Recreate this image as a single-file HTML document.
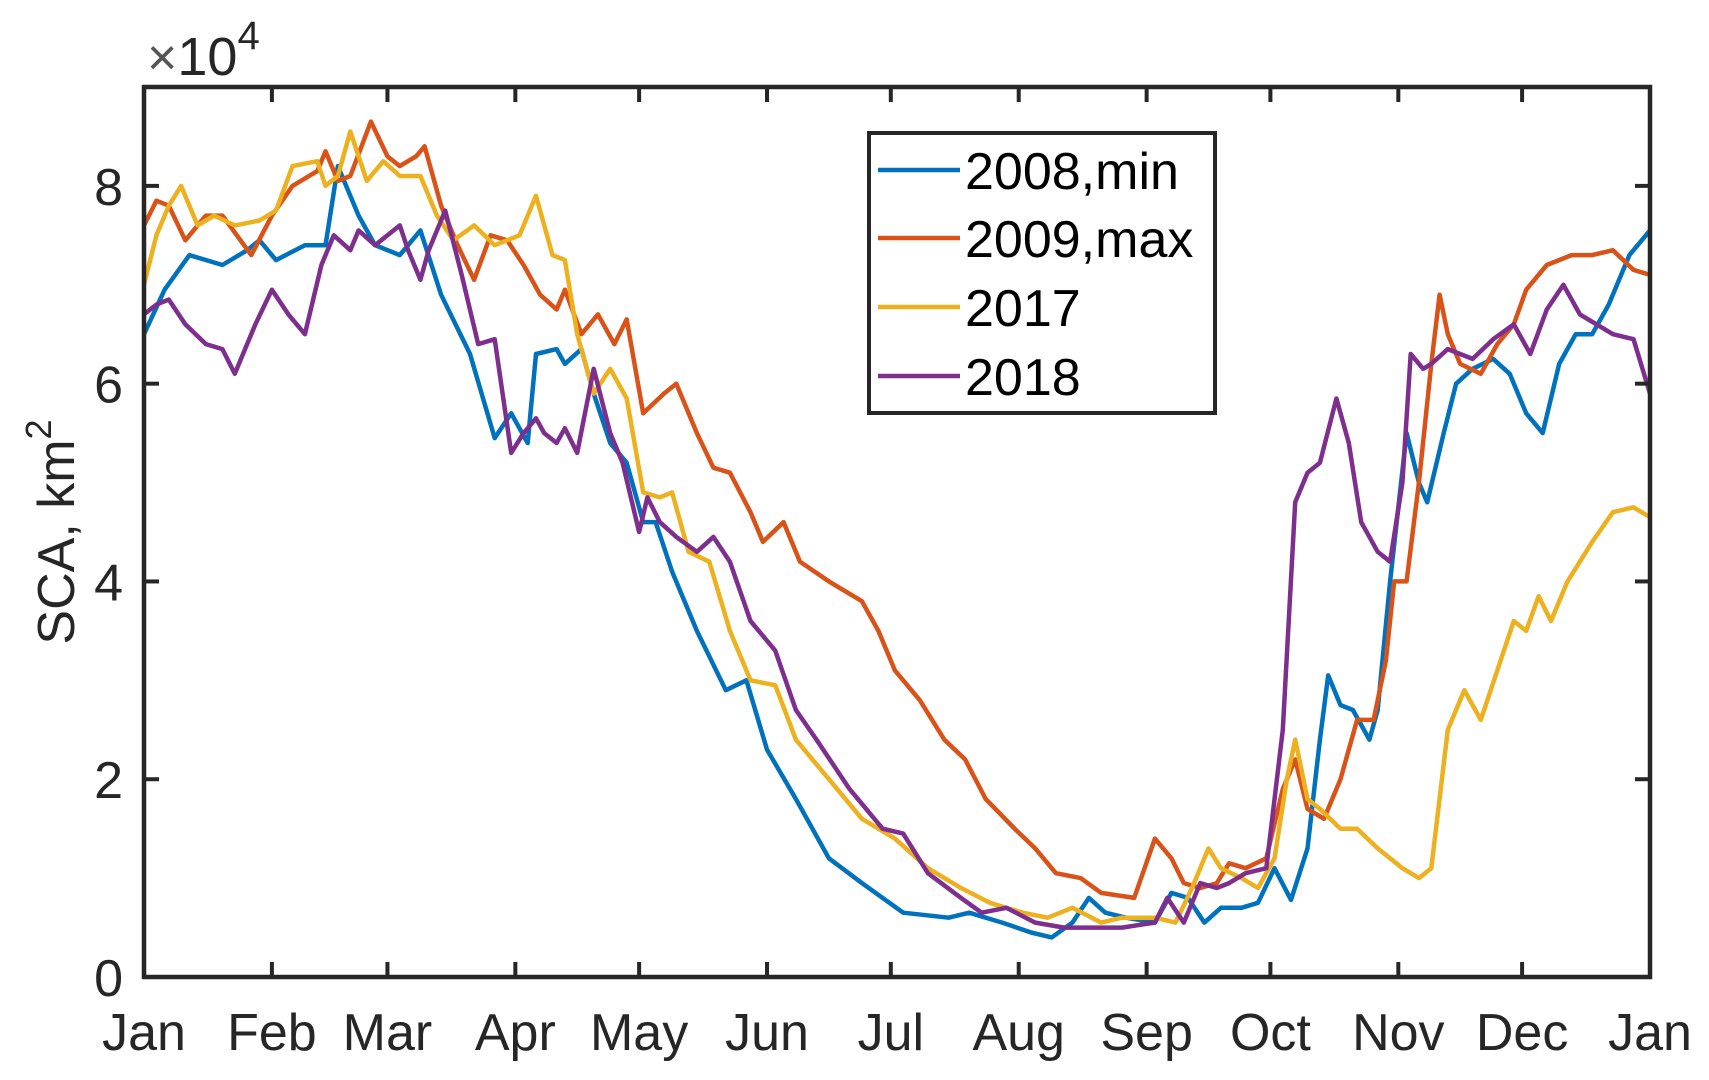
<!DOCTYPE html>
<html><head><meta charset="utf-8"><style>
html,body{margin:0;padding:0;background:#fff;}
svg{display:block;font-family:"Liberation Sans",Arial,sans-serif;}
</style></head><body>
<svg id="chart" width="1709" height="1080" viewBox="0 0 1709 1080" xmlns="http://www.w3.org/2000/svg">
<rect width="1709" height="1080" fill="#fff"/>
<g id="lines"></g>
<g id="axes"></g>
<text transform="translate(74,532) rotate(-90)" text-anchor="middle" font-size="52" fill="#262626">SCA, km<tspan font-size="36" dy="-23">2</tspan></text>
<text x="147" y="75" font-size="54" fill="#262626"><tspan font-size="52" fill="#555">×</tspan>10<tspan font-size="40" dy="-26">4</tspan></text>
<g>
<rect x="869" y="133" width="346" height="280" fill="#fff" stroke="#262626" stroke-width="4"/>
<line x1="878" y1="170" x2="960" y2="170" stroke="#0072BD" stroke-width="4.5"/>
<text x="965" y="189" font-size="52">2008,min</text>
<line x1="878" y1="238" x2="960" y2="238" stroke="#D95319" stroke-width="4.5"/>
<text x="965" y="257" font-size="52">2009,max</text>
<line x1="878" y1="307" x2="960" y2="307" stroke="#EDB120" stroke-width="4.5"/>
<text x="965" y="326" font-size="52">2017</text>
<line x1="878" y1="376" x2="960" y2="376" stroke="#7E2F8E" stroke-width="4.5"/>
<text x="965" y="395" font-size="52">2018</text>
</g>
</svg>
<script>
const monthLabels=["Jan","Feb","Mar","Apr","May","Jun","Jul","Aug","Sep","Oct","Nov","Dec","Jan"];
const monthDays=[0,31,59,90,120,151,181,212,243,273,304,334,365];
const yTicks=[0,2,4,6,8];
const yTickLabels=["0","2","4","6","8"];

const days2008=[0,5,11,19,25,28,32,39,44,47,52,56,62,67,72,79,85,89,93,95,100,102,106,109,113,117,121,124,128,134,141,146,151,158,166,174,179,184,195,200,208,215,220,225,229,233,238,245,249,253,257,261,266,270,274,278,282,285,287,290,293,297,299,302,306,309,311,315,318,322,327,331,335,339,343,347,351,355,360,365];
const vals2008=[6.5,6.95,7.3,7.2,7.35,7.45,7.25,7.4,7.4,8.2,7.7,7.4,7.3,7.55,6.9,6.3,5.45,5.7,5.4,6.3,6.35,6.2,6.35,5.9,5.4,5.2,4.6,4.6,4.1,3.5,2.9,3.0,2.3,1.8,1.2,0.95,0.8,0.65,0.6,0.65,0.55,0.45,0.4,0.55,0.8,0.65,0.6,0.55,0.85,0.8,0.55,0.7,0.7,0.75,1.1,0.78,1.3,2.4,3.05,2.75,2.7,2.4,2.7,4.0,5.5,5.0,4.8,5.5,6.0,6.15,6.25,6.1,5.7,5.5,6.2,6.5,6.5,6.8,7.3,7.55];

const days2009=[0,3,6,10,15,19,26,31,36,42,44,47,50,55,59,62,66,68,72,76,80,84,88,92,96,100,102,106,110,114,117,121,126,129,134,138,142,147,150,155,159,166,174,178,182,188,194,199,204,211,216,221,227,232,240,245,249,252,256,260,263,267,272,276,279,282,286,290,294,298,301,303,306,309,312,314,316,319,324,328,332,335,340,346,351,356,361,365];
const vals2009=[7.6,7.85,7.8,7.45,7.7,7.7,7.3,7.7,8.0,8.15,8.35,8.05,8.1,8.65,8.3,8.2,8.3,8.4,7.8,7.4,7.05,7.5,7.45,7.2,6.9,6.75,6.95,6.5,6.7,6.4,6.65,5.7,5.9,6.0,5.5,5.15,5.1,4.7,4.4,4.6,4.2,4.0,3.8,3.5,3.1,2.8,2.4,2.2,1.8,1.5,1.3,1.05,1.0,0.85,0.8,1.4,1.2,0.95,0.9,0.95,1.15,1.1,1.2,1.9,2.2,1.7,1.6,2.0,2.6,2.6,3.2,4.0,4.0,5.0,6.2,6.9,6.5,6.2,6.1,6.4,6.6,6.95,7.2,7.3,7.3,7.35,7.15,7.1];

const days2017=[0,3,6,9,13,17,22,28,32,36,42,44,47,50,54,58,62,67,71,75,80,85,91,95,99,102,105,109,113,117,121,125,128,132,137,142,147,153,158,166,174,182,190,198,205,213,219,225,232,237,245,250,254,258,261,266,270,274,277,279,282,285,290,294,299,305,309,312,316,320,324,328,332,335,338,341,345,351,356,361,365];
const vals2017=[7.0,7.5,7.8,8.0,7.6,7.7,7.6,7.65,7.75,8.2,8.25,8.0,8.1,8.55,8.05,8.25,8.1,8.1,7.7,7.45,7.6,7.4,7.5,7.9,7.3,7.25,6.5,5.9,6.15,5.85,4.9,4.85,4.9,4.3,4.2,3.5,3.0,2.95,2.4,2.0,1.6,1.4,1.1,0.9,0.75,0.65,0.6,0.7,0.55,0.6,0.6,0.55,0.9,1.3,1.1,1.0,0.9,1.2,2.0,2.4,1.8,1.7,1.5,1.5,1.3,1.1,1.0,1.1,2.5,2.9,2.6,3.1,3.6,3.5,3.85,3.6,4.0,4.4,4.7,4.75,4.65];

const days2018=[0,3,6,10,15,19,22,27,31,35,39,43,46,50,52,56,62,64,67,69,73,77,81,85,89,92,95,97,100,102,105,109,113,116,120,122,125,129,134,138,142,147,153,158,163,171,179,184,190,198,203,209,216,223,229,237,245,248,252,256,260,263,267,272,276,279,282,285,289,292,295,299,302,305,307,310,312,316,322,327,332,336,340,344,348,352,356,361,365];
const vals2018=[6.7,6.8,6.85,6.6,6.4,6.35,6.1,6.6,6.95,6.7,6.5,7.2,7.5,7.35,7.55,7.4,7.6,7.35,7.05,7.35,7.75,7.1,6.4,6.45,5.3,5.5,5.65,5.5,5.4,5.55,5.3,6.15,5.5,5.2,4.5,4.85,4.6,4.45,4.3,4.45,4.2,3.6,3.3,2.7,2.4,1.9,1.5,1.45,1.05,0.8,0.65,0.7,0.55,0.5,0.5,0.5,0.55,0.8,0.55,0.95,0.9,0.95,1.05,1.1,2.5,4.8,5.1,5.2,5.85,5.4,4.6,4.3,4.2,5.0,6.3,6.15,6.2,6.35,6.25,6.45,6.6,6.3,6.75,7.0,6.7,6.6,6.5,6.45,5.9];

const L=144,R=1650,T=87,B=977,XMAX=365,YMAX=9;
const NS="http://www.w3.org/2000/svg";
function xs(d){return L+(R-L)*d/XMAX;}
function ys(v){return B-(B-T)*v/YMAX;}
function mk(tag,attrs,parent){const e=document.createElementNS(NS,tag);for(const k in attrs)e.setAttribute(k,attrs[k]);parent.appendChild(e);return e;}

const linesG=document.getElementById('lines');
const series=[["2008",days2008,vals2008,"#0072BD"],["2009",days2009,vals2009,"#D95319"],["2017",days2017,vals2017,"#EDB120"],["2018",days2018,vals2018,"#7E2F8E"]];
series.forEach(s=>{
  const d=s[1].map((dd,i)=>(i?"L":"M")+xs(dd).toFixed(1)+","+ys(s[2][i]).toFixed(1)).join(" ");
  const p=mk('path',{d:d,fill:"none",stroke:s[3],"stroke-width":"4.5","stroke-linejoin":"round"},linesG);
  
  
});

const ax=document.getElementById('axes');
const frame=mk('rect',{x:L,y:T,width:R-L,height:B-T,fill:"none",stroke:"#262626","stroke-width":"4.5"},ax);


monthDays.forEach((d,i)=>{
  const x=xs(d);
  const t1=mk('line',{x1:x,y1:B,x2:x,y2:B-15,stroke:"#262626","stroke-width":"4"},ax);
  
  
  const t2=mk('line',{x1:x,y1:T,x2:x,y2:T+15,stroke:"#262626","stroke-width":"4"},ax);
  
  
  const tx=mk('text',{x:x,y:1050,"text-anchor":"middle","font-size":"52",fill:"#262626"},ax);
  tx.textContent=monthLabels[i];
  
  
});
yTicks.forEach((v,i)=>{
  const y=ys(v);
  const t1=mk('line',{x1:L,y1:y,x2:L+15,y2:y,stroke:"#262626","stroke-width":"4"},ax);
  
  
  const t2=mk('line',{x1:R,y1:y,x2:R-15,y2:y,stroke:"#262626","stroke-width":"4"},ax);
  
  
  const tx=mk('text',{x:123,y:y+19,"text-anchor":"end","font-size":"52",fill:"#262626"},ax);
  tx.textContent=yTickLabels[i];
  
  
});
</script>
</body></html>
